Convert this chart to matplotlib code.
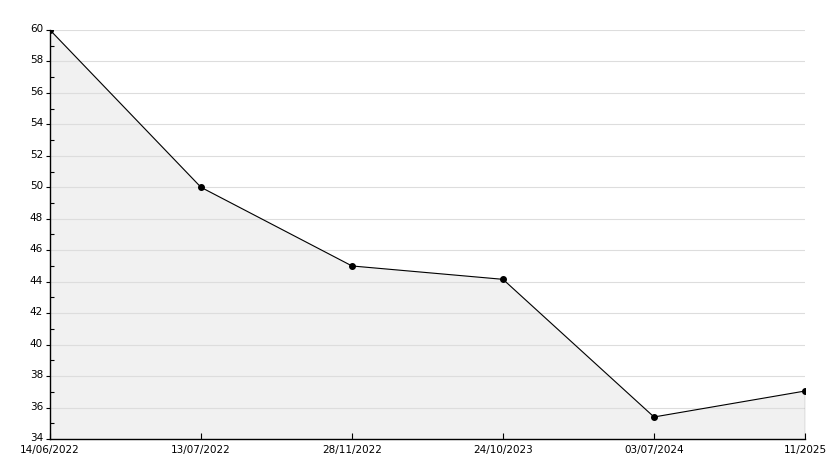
import matplotlib
matplotlib.use("Agg")
import matplotlib.pyplot as plt
import matplotlib.transforms as mtransforms
from matplotlib.ticker import MultipleLocator

dates = ["14/06/2022", "13/07/2022", "28/11/2022", "24/10/2023", "03/07/2024", "11/2025"]
values = [60, 50, 45, 44.15, 35.4, 37.05]

fig = plt.figure(figsize=(8.34, 4.68), dpi=100)
ax = fig.add_axes([50/834, 1-439/468, 755/834, 409/468])
x = list(range(len(dates)))
ax.fill_between(x, values, 34, color="#f1f1f1", zorder=1)
ax.plot(x, values, color="black", lw=0.8, marker="o", ms=4, zorder=3)
ax.plot([x[-1], x[-1]], [34, values[-1]], color="black", lw=0.8, zorder=3)
ax.set_xlim(0, len(dates)-1)
ax.set_ylim(34, 60)
ax.yaxis.set_major_locator(MultipleLocator(2))
ax.yaxis.set_minor_locator(MultipleLocator(1))
ax.set_xticks(x)
ax.set_xticklabels(dates)
ax.grid(axis="y", which="major", color="#dddddd", lw=0.8, zorder=0)
for s in ["top", "right"]:
    ax.spines[s].set_visible(False)
for s in ["left", "bottom"]:
    ax.spines[s].set_linewidth(1.0)
ax.tick_params(axis="y", which="major", direction="out", length=3, width=0.8, labelsize=7.5, pad=2)
ax.tick_params(axis="y", which="minor", direction="in", length=3, width=0.8)
ax.tick_params(axis="x", which="major", direction="in", length=4, width=0.8, labelsize=7.5, pad=4)
offset = mtransforms.ScaledTranslation(0, 2/100, fig.dpi_scale_trans)
for lbl in ax.get_yticklabels():
    lbl.set_transform(lbl.get_transform() + offset)
fig.savefig("out.png", dpi=100)
